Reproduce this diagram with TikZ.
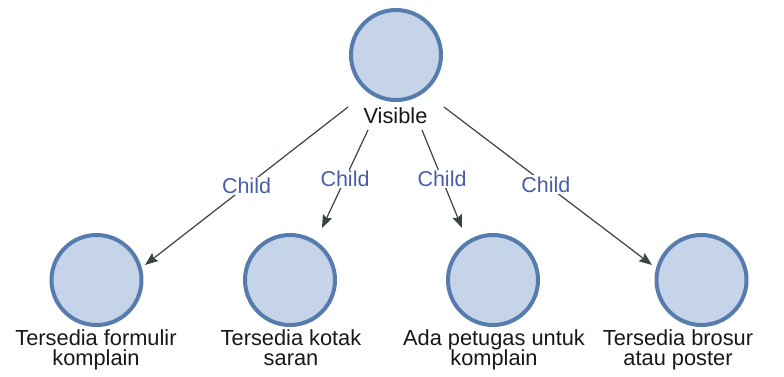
\documentclass[tikz,border=0pt]{standalone}
\usepackage{fontspec}
\setmainfont{Liberation Sans}
\usetikzlibrary{arrows.meta}
\definecolor{nodefill}{RGB}{198,212,234}
\definecolor{nodeline}{RGB}{86,124,174}
\definecolor{edgegray}{RGB}{58,68,70}
\definecolor{childblue}{RGB}{72,94,170}
\definecolor{textdark}{RGB}{24,24,24}
\begin{document}
\begin{tikzpicture}[x=1pt,y=-1pt,
  state/.style={circle,draw=nodeline,fill=nodefill,line width=4pt,minimum size=90pt,inner sep=0pt},
  caption/.style={align=center,text=textdark,font=\fontsize{21.8}{20.5}\selectfont,inner sep=0pt},
  rel/.style={draw=edgegray,line width=1.2pt,-{Stealth[length=13pt,width=10pt,inset=2pt]}},
  childlbl/.style={fill=white,text=childblue,font=\fontsize{21.5}{20}\selectfont,inner sep=1.5pt}]
\useasboundingbox[fill=white] (0,0) rectangle (784,376);

% parent
\node[state] (root) at (396,55) {};
\node[caption,anchor=base] (rootlbl) at (395.5,123) {Visible};

% children
\node[state] (c1) at (96.5,280) {};
\node[state] (c2) at (290,280) {};
\node[state] (c3) at (493,280) {};
\node[state] (c4) at (701.5,280) {};

\node[caption,anchor=north] (l1) at (96,329) {Tersedia formulir\\komplain};
\node[caption,anchor=north] (l2) at (291,329) {Tersedia kotak\\saran};
\node[caption,anchor=north] (l3) at (494,329) {Ada petugas untuk\\komplain};
\node[caption,anchor=north] (l4) at (678,329) {Tersedia brosur\\atau poster};

% connector ends: start below the parent, tips just short of the children
\coordinate (s1) at (348,107);
\coordinate (s2) at (368,130);
\coordinate (s3) at (422,130);
\coordinate (s4) at (444,107);
\coordinate (t1) at (145,265);
\coordinate (t2) at (322,228);
\coordinate (t3) at (462,228);
\coordinate (t4) at (652,265);

\draw[rel] (s1) -- node[childlbl,pos=0.5] {Child} (t1);
\draw[rel] (s2) -- node[childlbl,pos=0.5] {Child} (t2);
\draw[rel] (s3) -- node[childlbl,pos=0.5] {Child} (t3);
\draw[rel] (s4) -- node[childlbl,pos=0.49] {Child} (t4);
\end{tikzpicture}
\end{document}
